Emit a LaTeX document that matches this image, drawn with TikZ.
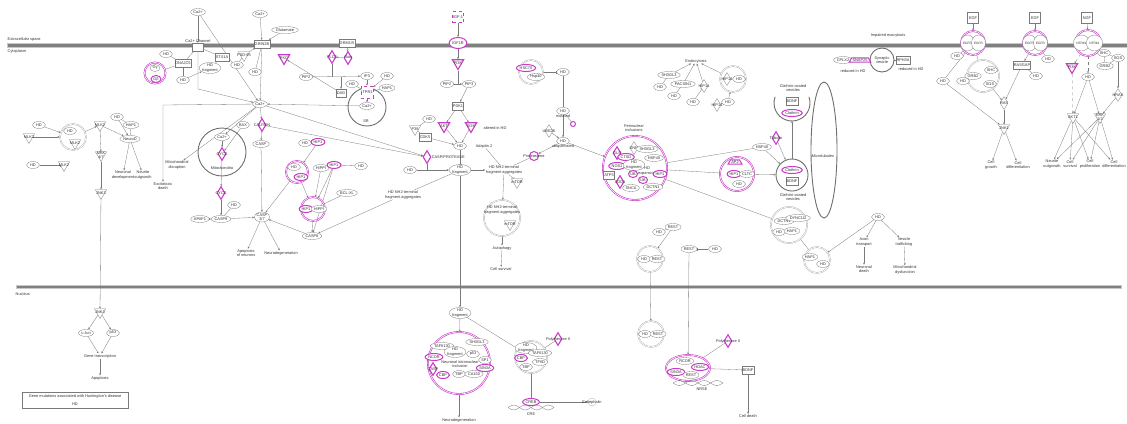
\documentclass[tikz,border=0pt]{standalone}
\usepackage{fontspec}
\setmainfont{Liberation Sans}
\usepackage{tikz}
\usetikzlibrary{shapes.geometric, arrows.meta, backgrounds}
\definecolor{hdmag}{HTML}{C83CC8}
\definecolor{hdline}{HTML}{7A7A7A}
\definecolor{hdgray}{HTML}{6E6E6E}
\definecolor{hdtext}{HTML}{333333}
\definecolor{membr}{HTML}{808080}
\definecolor{membrlt}{HTML}{C8C8C8}

\begin{document}
\begin{tikzpicture}[x=1pt, y=-1pt,
    every node/.style={font=\fontsize{3.9}{4.3}\selectfont, text=hdtext, inner sep=0.5pt},
    mol/.style={ellipse, draw=hdline, line width=0.3pt, fill=white, minimum width=13pt, minimum height=7pt},
    mmol/.style={mol, draw=hdmag, line width=1pt},
    frag/.style={mol, align=center, inner sep=0pt},
    lobe/.style={mol, minimum width=9pt, minimum height=16pt, font=\fontsize{3.2}{3.6}\selectfont},
    kin/.style={regular polygon, regular polygon sides=3, shape border rotate=180, draw=hdline, line width=0.3pt, fill=white, minimum size=13pt, inner sep=0pt, label={[inner sep=0pt, align=center]center:#1}},
    mkin/.style={kin=#1, draw=hdmag, line width=1.1pt},
    enz/.style={diamond, draw=hdline, line width=0.3pt, fill=white, minimum width=8pt, minimum height=13pt, inner sep=0pt, label={[inner sep=0pt, align=center]center:#1}},
    menz/.style={enz=#1, draw=hdmag, line width=1.1pt},
    recp/.style={rectangle, draw=hdline, line width=0.3pt, fill=white, minimum width=11pt, minimum height=8pt},
    cplx/.style={circle, draw=hdline!70, double=white, double distance=0.7pt, line width=0.35pt, minimum size=#1},
    mcplx/.style={circle, draw=hdmag, double=white, double distance=0.6pt, line width=0.6pt, minimum size=#1},
    comp/.style={circle, draw=hdgray, line width=0.9pt, minimum size=#1},
    fn/.style={align=center},
    act/.style={draw=hdline, line width=0.3pt, -{Stealth[length=2.2pt, width=1.8pt]}},
    inh/.style={draw=hdline, line width=0.3pt, -{Bar[width=3pt]}},
    lnk/.style={draw=hdline, line width=0.3pt},
]
\useasboundingbox (0,0) rectangle (1127,423);

\node[anchor=west] (extra) at (7,39.5) {Extracellular space};
\node[anchor=west] (cyto) at (7,51) {Cytoplasm};
\node[anchor=west] (nucl) at (15,294) {Nucleus};

\node[comp=48pt] (mito) at (222,152) {};
\node[comp=38pt] (sr) at (367,107) {};
\node[mcplx=21pt] (gbg) at (155,73) {};
\node[cplx=26pt] (mlkc) at (73,137) {};
\node[mcplx=22pt] (hiphd) at (297,172) {};
\node[mcplx=24pt] (hippc) at (313,209) {};
\node[cplx=24pt] (hspc) at (531,72) {};
\node[cplx=36pt] (aggc) at (502,218) {};
\node[mcplx=64pt] (peri) at (635,168) {};
\node[mcplx=34pt] (apc) at (737,174) {};
\node[comp=32pt] (ccv2) at (792,175) {};
\node[ellipse, draw=hdgray, line width=0.9pt, minimum width=26pt, minimum height=136pt] (mtub) at (824,150) {};
\node[cplx=36pt] (dctnc) at (789,225) {};
\node[cplx=26pt] (haphd) at (817,260) {};
\node[cplx=26pt] (restc1) at (650,259) {};
\node[cplx=26pt] (hip14c) at (733,79) {};
\node[comp=24pt] (synv) at (882,60) {};
\node[cplx=32pt] (grbc1) at (983,76) {};
\node[mcplx=62pt] (nii) at (459,363) {};
\node[cplx=32pt] (tfc) at (531,357) {};
\node[cplx=26pt] (restc2) at (651,334) {};
\node[ellipse, draw=hdmag, double=white, double distance=0.6pt, line width=0.6pt, minimum width=44pt, minimum height=26pt] (restc3) at (688,368) {};
\coordinate (ccv1c) at (792,103);
\coordinate (ccv1b) at (792,121);
\draw[hdgray, line width=0.9pt] (ccv1c) ++(160:18pt) arc[start angle=160, end angle=380, radius=18pt];

\node[mol] (ca1) at (198,12) {Ca2+};
\node[mol] (ca2) at (260,14) {Ca2+};
\node[mol] (glu) at (285,30) {Glutamate};
\node[recp, label={[inner sep=0.3pt]above:Ca2+ Channel}] (vgcc) at (198,47) {};
\node[recp] (grin) at (262,44) {GRIN2B};
\node[mol, minimum width=10pt] (gg) at (155,68) {Gγ};
\node[mmol, minimum width=10pt] (gb) at (156,79) {Gβ};
\node[mol] (hd1) at (166,54) {HD};
\node[recp] (dnaj) at (183,63) {DNAJC5};
\node[mol] (hd2) at (183,80) {HD};
\node[frag] (hdf1) at (210,68) {HD\\fragment};
\node[recp] (stx) at (222,57) {STX1A};
\node[mol] (hd3) at (237,65) {HD};
\node[kin=PSD-95] (psd) at (244,55) {};
\node[mol] (hd4) at (255,72) {HD};
\node[mol] (cacy) at (260,104) {Ca2+};

\node[recp] (grm) at (347,43) {GRM1/5};
\node[menz=PLCβ] (plc) at (332,57) {};
\node[menz=Gαq] (gaq) at (348,58) {};
\node[mkin=PKC] (pkc) at (284,58) {};
\node[mol] (pip2a) at (306,77) {PIP2};
\node[mol] (ip3) at (367,76) {IP3};
\node[recp, minimum width=9pt] (dag) at (341,93) {DAG};
\node[mol] (hd5) at (352,84) {HD};
\node[mol] (hd6) at (387,76) {HD};
\node[mol] (hap1a) at (387,88) {HAP1};
\node[recp, draw=hdmag, dashed, line width=0.8pt, minimum height=12pt] (itpr) at (367,92) {ITPR1};
\node[mol] (casr) at (367,106) {Ca2+};
\node (srl) at (366,121) {SR};

\node[recp, draw=hdmag, dashed, line width=0.8pt, minimum height=11pt] (igf) at (458,17) {IGF-1};
\node[mol, draw=hdmag, line width=1pt, minimum height=11pt] (igfr) at (458,43) {IGF1R};
\node[mkin=PI3K] (pi3k) at (458,63) {};
\node[mol] (pip2b) at (447,84) {PIP2};
\node[mol] (pip3) at (469,84) {PIP3};
\node[recp] (pdk) at (458,106) {PDK1};
\node[mkin=AKT] (akt) at (444,126) {};
\node[mkin=SGK] (sgk) at (471,126) {};
\node[fn] (alt) at (495,128) {altered in HD};
\node[mol] (hd7) at (429,119) {HD};
\node[kin=P38] (p38) at (415,129) {};
\node[recp] (cdk) at (425,137) {CDK5};
\node[mol] (hd8) at (460,146) {HD};
\node[fn] (adap) at (484,146) {Adaptin 2};

\node[mmol, minimum width=10pt] (hsc) at (526,68) {HSC70};
\node[mol] (hsp40a) at (536,77) {Hsp40};
\node[mol] (hd9) at (563,72) {HD};
\node[mol, label={[inner sep=0pt]below:mutated}] (hd10) at (563,111) {HD};
\node[mmol, minimum width=5pt, minimum height=5pt, inner sep=0pt] (ub1) at (573,124) {};
\node[enz=UBE2K] (ube) at (549,131) {};
\node[mol, label={[inner sep=0pt]below:ubiquitinated}] (hd11) at (563,141) {HD};
\node[mmol, circle, minimum size=9pt, inner sep=0pt, label={[inner sep=0pt]center:Proteasome}] (prot) at (534,156) {};

\node[frag] (hdf2) at (460,170) {HD\\fragment};
\node[mol] (hd12) at (410,170) {HD};
\node[menz={}, label={[inner sep=0pt]right:CASP/PROTEASE}] (capn) at (427,157) {};
\node[fn] (agg1) at (504,170) {HD NH2-terminal\\fragment aggregates};
\node[kin=mTOR] (mtor1) at (517,182) {};
\node[fn] (agg2) at (502,210) {HD NH2-terminal\\fragment aggregates};
\node[kin=mTOR] (mtor2) at (510,224) {};
\node[fn] (auto) at (502,248) {Autophagy};
\node[fn] (surv1) at (501,269) {Cell survival};
\node[fn] (agg3) at (403,195) {HD NH2-terminal\\fragment aggregates};

\node[mol] (hd13) at (294,167) {HD};
\node[mmol, minimum width=10pt] (hip1a) at (301,177) {HIP1};
\node[mol] (hd14) at (305,143) {HD};
\node[mmol, minimum width=10pt] (hip1b) at (318,142) {HIP1};
\node[mol] (hippi1) at (321,168) {HIPPI};
\node[mmol, minimum width=10pt] (hip1c) at (334,165) {HIP1};
\node[mol] (hd15) at (361,166) {HD};
\node[mol] (bcl) at (347,193) {BCL-XL};
\node[mmol, minimum width=10pt] (hip1d) at (306,209) {HIP1};
\node[mol, minimum width=10pt] (hippi2) at (319,209) {HIPPI};
\node[mol] (casp8) at (312,236) {CASP8};

\node (mitol) at (222,168) {Mitochondria};
\node[mol] (camt) at (222,137) {Ca2+};
\node[menz=CYCS] (cycs1) at (222,154) {};
\node[menz=CYCS] (cycs2) at (221,193) {};
\node[mol] (hd16) at (234,205) {HD};
\node[mol] (apaf) at (200,219) {APAF1};
\node[mol] (casp9) at (221,219) {CASP9};
\node[mol] (bax) at (243,125) {BAX};
\node[menz=CALPAIN] (calp) at (262,125) {};
\node[mol] (casp) at (261,144) {CASP};
\node[mol, align=center, inner sep=0pt] (casp37) at (262,217) {CASP\\3/7};
\node[fn] (excit) at (163,186) {Excitotoxic\\death};
\node[fn] (mdis) at (177,165) {Mitochondrial\\disruption};
\node[fn] (apn) at (246,253) {Apoptosis\\of neurons};
\node[fn] (ndeg1) at (281,253) {Neurodegeneration};

\node[kin=MLK2] (mlk2a) at (29,137) {};
\node[mol] (hd17) at (39,125) {HD};
\node[mol] (hd18) at (70,131) {HD};
\node[kin=MLK2] (mlk2b) at (75,143) {};
\node[kin=MLK2] (mlk2c) at (100,125) {};
\node[mol] (hd19) at (117,117) {HD};
\node[mol] (hap1b) at (131,125) {HAP1};
\node[mol] (neurod) at (130,139) {NeuroD};
\node[fn] (ndev) at (123,175) {Neuronal\\development};
\node[fn] (nout1) at (143,175) {Neurite\\outgrowth};
\node[mol] (hd20) at (33,165) {HD};
\node[kin=MLK2] (mlk2d) at (64,165) {};
\node[kin={MKK\\4/7}] (mkk) at (101,155) {};
\node[kin=JNK3] (jnk3a) at (101,193) {};

\node[kin=JNK3] (jnk3b) at (100,312) {};
\node[mol] (cjun) at (86,333) {c-Jun};
\node[mol] (p53a) at (113,333) {p53};
\node[fn] (gtx) at (100,356) {Gene transcription};
\node[fn] (apop) at (100,378) {Apoptosis};
\node[draw=hdline, line width=0.4pt, minimum width=106pt, minimum height=16pt, align=center] (legend) at (75,400) {Gene mutations associated with Huntington's disease\\[3pt]HD};

\node[frag] (hdf3) at (460,313) {HD\\fragment};
\node[mol] (taf1) at (442,346) {TAFII130};
\node[mol] (sh3b) at (477,342) {SH3GL3};
\node[frag] (hdf4) at (455,352) {HD\\fragment};
\node[mol] (p53b) at (473,354) {p53};
\node[mol] (sp1) at (485,360) {SP1};
\node[mmol] (ncor) at (434,357) {NCOR};
\node[fn] (niil) at (460,364) {Neuronal intranuclear\\inclusion};
\node[menz=CASP] (casp3n) at (433,369) {};
\node[mmol] (cbp1) at (443,375) {CBP};
\node[mol] (tbp1) at (459,374) {TBP};
\node[mol] (ca150) at (474,374) {CA150};
\node[mmol] (sin3a1) at (485,368) {SIN3A};
\node[fn] (ndeg2) at (459,420) {Neurodegeneration};

\node[frag] (hdf5) at (526,348) {HD\\fragment};
\node[mol] (taf2) at (540,353) {TAFII130};
\node[mmol] (cbp2) at (521,358) {CBP};
\node[mol] (tfiid) at (540,362) {TFIID};
\node[mol] (tbp2) at (526,367) {TBP};
\node[menz={Polymerase II}] (pol2a) at (558,339) {};
\draw[hdline, line width=0.3pt, domain=508:554, samples=80] plot (\x, {407.5+2.4*sin(15.65*(\x-508))});
\draw[hdline, line width=0.3pt, domain=508:554, samples=80] plot (\x, {407.5-2.4*sin(15.65*(\x-508))});
\node[mmol] (creb) at (531,402) {CREB};
\node (cre) at (531,414) {CRE};
\node[circle, draw=hdline!60, line width=0.3pt, minimum size=8pt, label={[inner sep=0pt]center:Enkephalin}] (enk) at (592,402) {};

\node[mol] (hd21) at (645,334) {HD};
\node[mol] (rest3) at (658,334) {REST};
\draw[hdline, line width=0.3pt, domain=673:723, samples=80] plot (\x, {383+2.4*sin(14.4*(\x-673))});
\draw[hdline, line width=0.3pt, domain=673:723, samples=80] plot (\x, {383-2.4*sin(14.4*(\x-673))});
\node[mol] (rcor) at (685,361) {RCOR};
\node[mmol] (sin3a2) at (676,372) {SIN3A};
\node[mol] (rest4) at (691,375) {REST};
\node[mmol] (hdac) at (700,367) {HDAC};
\node (nrse) at (702,389) {NRSE};
\node[menz={Polymerase II}] (pol2b) at (728,341) {};
\node[recp] (bdnf3) at (748,370) {BDNF};
\node[fn] (cdeath) at (748,416) {Cell death};

\node[mol] (hd22) at (659,232) {HD};
\node[mol] (rest1) at (673,227) {REST};
\node[mol] (hd23) at (644,259) {HD};
\node[mol] (rest2) at (657,259) {REST};
\node[mol] (rest5) at (689,249) {REST};
\node[mol] (hd24) at (715,249) {HD};

\node[fn] (peril) at (634,128) {Perinuclear\\inclusions};
\node[menz=GLS] (gls) at (617,153) {};
\node[enz=DNM] (dnm) at (634,148) {};
\node[mol] (sh3c) at (647,149) {SH3GL3};
\node[mmol] (ctsd) at (626,157) {CTSD};
\node[mol] (hsp70) at (654,158) {HSP40};
\node[mmol] (nos) at (617,166) {NOS1};
\node[frag] (hdf6) at (634,165) {HD\\fragment};
\node[fn] (hdexp) at (647,171) {HD\\expansion};
\node[recp] (atp) at (609,175) {ATP5};
\node[mmol, minimum width=9pt] (ub2) at (633,174) {UB};
\node[mmol, minimum width=9pt] (ub3) at (643,180) {UB};
\node[mmol] (hip1e) at (660,174) {HIP1};
\node[mol] (dctn1a) at (653,187) {DCTN1};
\node[mol] (snca) at (631,188) {SNCA};
\node[menz=SOD1] (sod) at (620,182) {};

\node[mol] (hsp40b) at (762,147) {HSP40};
\node[menz=Tubulin] (tub) at (776,138) {};
\node[trapezium, draw=hdmag, line width=1pt, fill=white, inner sep=0.8pt] (ap2) at (735,162) {AP2};
\node[mmol] (hip1f) at (734,174) {HIP1};
\node[mol] (cltc) at (747,174) {CLTC};
\node[mol] (hd25) at (739,184) {HD};
\node[mmol] (clath2) at (792,170) {Clathrin};
\node[recp] (bdnf2) at (792,181) {BDNF};
\node[fn] (ccv2l) at (793,197) {Clathrin-coated\\vesicles};
\node[fn] (ccv1l) at (793,88) {Clathrin-coated\\vesicles};
\node[recp] (bdnf1) at (792,101) {BDNF};
\node[mmol] (clath1) at (792,113) {Clathrin};
\node (mtubl) at (823,156) {Microtubules};

\node[mol] (dctn1b) at (784,221) {DCTN1};
\node[mol] (dync) at (798,218) {DYNC1I2};
\node[mol] (hd26) at (779,232) {HD};
\node[mol] (hap1c) at (792,231) {HAP1};
\node[mol] (hap1d) at (810,257) {HAP1};
\node[mol] (hd27) at (823,264) {HD};
\node[mol] (hd28) at (878,217) {HD};
\node[fn] (axon) at (864,242) {Axon\\transport};
\node[fn] (vtraf) at (904,242) {Vesicle\\trafficking};
\node[fn] (ndeath) at (864,269) {Neuronal\\death};
\node[fn] (mdys) at (905,270) {Mitochondrial\\dysfunction};

\node[fn] (endo) at (696,61) {Endocytosis};
\node[mol] (sh3a) at (669,75) {SH3GL3};
\node[mol] (hd29) at (660,87) {HD};
\node[mol] (pacs) at (683,84) {PACSIN1};
\node[mol] (hd30) at (674,96) {HD};
\node[enz=HIP14] (hip14a) at (704,86) {};
\node[mol] (hd31) at (693,102) {HD};
\node[enz=HIP14] (hip14b) at (727,79) {};
\node[mol] (hd32) at (739,79) {HD};
\node[enz=HIP14] (hip14d) at (717,105) {};
\node[mol] (hd33) at (728,102) {HD};

\node[fn] (impx) at (888,35) {Impaired exocytosis};
\node[mol] (cplx2) at (843,60) {CPLX2};
\node[trapezium, draw=hdmag, line width=1pt, fill=white, inner sep=0.8pt] (snap) at (860,60) {SNAP25};
\node[fn] (synvl) at (882,60) {Synaptic\\vesicle};
\node[recp] (rph) at (903,60) {RPH3A};
\node[fn] (red1) at (853,71) {reduced in HD};
\node[fn] (red2) at (911,69) {reduced in HD};

\node[recp, minimum height=11pt] (egf1) at (973,18) {EGF};
\node[mcplx=24pt] (egfr1) at (973,43) {};
\node[lobe] (egfr1a) at (967.5,43) {EGFR};
\node[lobe] (egfr1b) at (978.5,43) {EGFR};
\node[mol] (hd34) at (957,56) {HD};
\node[mol] (hd35) at (943,81) {HD};
\node[mol] (hd36) at (963,81) {HD};
\node[mol] (grb2a) at (973,76) {GRB2};
\node[mol] (shc1) at (991,70) {SHC};
\node[mol] (sos1) at (990,84) {SOS};
\node[enz=RAS] (ras1) at (1004,103) {};
\node[kin=JNK1] (jnk1) at (1004,128) {};
\node[recp, minimum height=11pt] (egf2) at (1035,18) {EGF};
\node[mcplx=24pt] (egfr2) at (1035,43) {};
\node[lobe] (egfr2a) at (1029.5,43) {EGFR};
\node[lobe] (egfr2b) at (1040.5,43) {EGFR};
\node[mol] (hd37) at (1048,59) {HD};
\node[recp] (rasgap) at (1022,65) {RASGAP};
\node[mol] (hd38) at (1036,76) {HD};
\node[recp, minimum height=11pt] (ngf) at (1087,18) {NGF};
\node[mcplx=26pt] (ntrk) at (1088,43) {};
\node[lobe] (ntrka) at (1081.5,43) {NTRK1};
\node[lobe] (ntrkb) at (1094.5,43) {NTRK1};
\node[mol] (shc2) at (1104,53) {SHC};
\node[mol] (grb2b) at (1105,66) {GRB2};
\node[mol] (sos2) at (1118,58) {SOS};
\node[mkin=PI3K] (pi3k2) at (1072,67) {};
\node[mol] (hd39) at (1088,77) {HD};
\node[enz=HRAS] (hras) at (1118,95) {};
\node[kin=AKT1] (akt1) at (1073,117) {};
\node[kin={ERK\\1/2}] (erk) at (1100,117) {};
\node[fn] (cgrow) at (991,165) {Cell\\growth};
\node[fn] (cdiff1) at (1018,165) {Cell\\differentiation};
\node[fn] (nout2) at (1052,164) {Neurite\\outgrowth};
\node[fn] (surv2) at (1070,164) {Cell\\survival};
\node[fn] (prolif) at (1090,164) {Cell\\proliferation};
\node[fn] (cdiff2) at (1114,164) {Cell\\differentiation};

\coordinate (cael) at (198,89);
\coordinate (exc) at (163,105);
\coordinate (plcx) at (332,77);
\coordinate (dagx) at (341,77);
\coordinate (pi3kx) at (458,84);
\coordinate (capnx) at (427,170);

\begin{scope}[on background layer]
\filldraw[fill=membr, draw=membrlt, line width=0.4pt] (7,43.3) rectangle (1127,47.3);
\filldraw[fill=membr, draw=membrlt, line width=0.4pt] (16,285) rectangle (1121,288.5);

\draw[act] (hd17) -- (mlkc);
\draw[act] (mlk2a) -- (mlkc);
\draw[act] (mlkc) -- (mlk2c);
\draw[inh] (hd20) -- (mlk2d);
\draw[act] (mlk2c) -- (mkk);
\draw[act] (mkk) -- (jnk3a);
\draw[act] (jnk3a) -- (jnk3b);
\draw[lnk] (hd19) -- (hap1b);
\draw[act] (hd19) -- (neurod);
\draw[act] (mlk2c) -- (neurod);
\draw[lnk] (hap1b) -- (neurod);
\draw[act] (neurod) -- (ndev);
\draw[act] (neurod) -- (nout1);
\draw[act] (jnk3b) -- (cjun);
\draw[act] (jnk3b) -- (p53a);
\draw[act] (cjun) -- (gtx);
\draw[act] (p53a) -- (gtx);
\draw[act] (gtx) -- (apop);

\draw[act] (ca1) -- (vgcc);
\draw[act] (ca1) -- (cacy);
\draw[act] (vgcc) -- (cael) -- (cacy);
\draw[act] (ca2) -- (grin);
\draw[act] (glu) -- (grin);
\draw[act] (grin) -- (cacy);
\draw[lnk] (gbg) -- (dnaj);
\draw[lnk] (hd1) -- (dnaj);
\draw[lnk] (dnaj) -- (vgcc);
\draw[lnk] (dnaj) -- (hd2);
\draw[act] (hd2) -- (hdf1);
\draw[lnk] (hdf1) -- (stx);
\draw[lnk] (stx) -- (vgcc);
\draw[act] (psd) -- (grin);
\draw[lnk] (hd3) -- (psd);
\draw[inh] (hd4) -- (grin);
\draw[act] (cacy) -- (exc) -- (excit);
\draw[act] (cacy) -- (camt);
\draw[act] (cacy) -- (mdis);
\draw[act] (cacy) -- (calp);
\draw[act] (camt) -- (cycs1);
\draw[act] (bax) -- (cycs1);
\draw[act] (cycs1) -- (cycs2);
\draw[act] (cycs2) -- (casp9);
\draw[lnk] (hd16) -- (casp9);
\draw[act] (apaf) -- (casp9);
\draw[act] (casp9) -- (casp37);
\draw[act] (calp) -- (casp);
\draw[act] (casp) -- (casp37);
\draw[act] (casp37) -- (apn);
\draw[act] (casp37) -- (ndeg1);
\draw[act] (hiphd) -- (casp37);
\draw[act] (casp8) -- (casp37);

\draw[act] (grm) -- (gaq);
\draw[act] (gaq) -- (plc);
\draw[act] (pip2a) -- (ip3);
\draw[lnk] (plc) -- (plcx);
\draw[act] (dagx) -- (dag);
\draw[act] (dag) -- (pkc);
\draw[act] (ip3) -- (itpr);
\draw[lnk] (hd5) -- (itpr);
\draw[act] (hd6) -- (itpr);
\draw[lnk] (hap1a) -- (itpr);
\draw[act] (itpr) -- (casr);
\draw[act] (casr) -- (cacy);

\draw[act] (igf) -- (igfr);
\draw[act] (igfr) -- (pi3k);
\draw[act] (pip2b) -- (pip3);
\draw[lnk] (pi3k) -- (pi3kx);
\draw[act] (pip3) -- (pdk);
\draw[act] (pdk) -- (akt);
\draw[act] (pdk) -- (sgk);
\draw[act] (akt) -- (hd8);
\draw[act] (sgk) -- (hd8);
\draw[lnk] (hd7) -- (p38);
\draw[lnk] (p38) -- (cdk);
\draw[act] (cdk) -- (hd8);
\draw[act] (cacy) -- (capn);
\draw[act] (calp) -- (capn);
\draw[act] (hd12) -- (hdf2);
\draw[lnk] (capn) -- (capnx);
\draw[inh] (hd8) -- (hdf2);
\draw[act] (hdf2) -- (agg1);
\draw[lnk] (adap) -- (agg1);
\draw[lnk] (hdf2) -- (agg3);
\draw[act] (agg3) -- (casp8);
\draw[act] (agg1) -- (aggc);
\draw[inh] (agg1) -- (mtor1);
\draw[act] (aggc) -- (auto);
\draw[act] (auto) -- (surv1);
\draw[lnk] (prot) -- (agg1);
\draw[act] (hdf2) -- (hdf3);

\draw[lnk] (hd14) -- (hip1b);
\draw[act] (hip1b) -- (hiphd);
\draw[act] (hiphd) -- (hippc);
\draw[act] (hippi1) -- (hippc);
\draw[act] (hip1c) -- (hippc);
\draw[inh] (hd15) -- (hip1c);
\draw[inh] (bcl) -- (hippc);
\draw[act] (hippc) -- (casp8);
\draw[act] (hip1c) -- (casp8);

\draw[inh] (hspc) -- (hd9);
\draw[lnk] (hd9) -- (hd10);
\draw[lnk] (hd10) -- (ub1);
\draw[act] (ube) -- (hd11);
\draw[act] (hd10) -- (hd11);
\draw[act] (hd11) -- (prot);
\draw[act] (hd11) -- (peri);

\draw[lnk] (peri) -- (hsp40b);
\draw[act] (hsp40b) -- (ccv2);
\draw[act] (tub) -- (ccv2);
\draw[inh] (peri) -- (apc);
\draw[act] (apc) -- (ccv2);
\draw[act] (ccv2) -- (ccv1b);
\draw[inh] (peri) -- (dctnc);
\draw[lnk] (dctnc) -- (haphd);
\draw[act] (hd28) -- (haphd);
\draw[act] (hd28) -- (axon);
\draw[act] (hd28) -- (vtraf);
\draw[act] (axon) -- (ndeath);
\draw[act] (vtraf) -- (mdys);

\draw[lnk] (hd22) -- (rest1);
\draw[act] (rest1) -- (restc1);
\draw[act] (restc1) -- (restc2);
\draw[inh] (hd24) -- (rest5);
\draw[act] (rest5) -- (restc3);
\draw[inh] (pol2b) -- (restc3);
\draw[inh] (restc3) -- (bdnf3);
\draw[act] (bdnf3) -- (cdeath);

\draw[act] (hdf3) -- (nii);
\draw[act] (hdf3) -- (tfc);
\draw[act] (nii) -- (ndeg2);
\draw[inh] (pol2a) -- (tfc);
\draw[inh] (tfc) -- (creb);
\draw[act] (creb) -- (enk);

\draw[act] (sh3a) -- (endo);
\draw[lnk] (hd29) -- (sh3a);
\draw[act] (pacs) -- (endo);
\draw[lnk] (hd30) -- (pacs);
\draw[act] (hip14a) -- (endo);
\draw[inh] (hd31) -- (hip14a);
\draw[act] (hip14c) -- (endo);
\draw[lnk] (hip14d) -- (hd33);
\draw[act] (hd33) -- (hip14c);

\draw[lnk] (cplx2) -- (snap);
\draw[lnk] (snap) -- (synv);
\draw[lnk] (synv) -- (rph);

\draw[act] (egf1) -- (egfr1);
\draw[lnk] (egfr1) -- (hd34);
\draw[inh] (hd35) -- (egfr1);
\draw[lnk] (egfr1) -- (grbc1);
\draw[lnk] (hd36) -- (grbc1);
\draw[act] (grbc1) -- (ras1);
\draw[act] (ras1) -- (jnk1);
\draw[act] (hd35) -- (jnk1);
\draw[act] (rasgap) -- (ras1);
\draw[act] (egf2) -- (egfr2);
\draw[act] (egfr2) -- (rasgap);
\draw[lnk] (egfr2) -- (hd37);
\draw[lnk] (rasgap) -- (hd38);
\draw[act] (jnk1) -- (cgrow);
\draw[act] (jnk1) -- (cdiff1);
\draw[act] (ngf) -- (ntrk);
\draw[lnk] (ntrk) -- (shc2);
\draw[lnk] (shc2) -- (grb2b);
\draw[lnk] (grb2b) -- (sos2);
\draw[lnk] (shc2) -- (sos2);
\draw[act] (sos2) -- (hras);
\draw[act] (hras) -- (erk);
\draw[act, dashed] (ntrk) -- (pi3k2);
\draw[act, dashed] (pi3k2) -- (akt1);
\draw[act, dashed] (ntrk) -- (hd39);
\draw[act] (hd39) -- (akt1);
\draw[act] (hd39) -- (erk);
\draw[act] (akt1) -- (nout2);
\draw[act] (akt1) -- (surv2);
\draw[act] (akt1) -- (prolif);
\draw[act] (akt1) -- (cdiff2);
\draw[act] (erk) -- (nout2);
\draw[act] (erk) -- (surv2);
\draw[act] (erk) -- (prolif);
\draw[act] (erk) -- (cdiff2);
\end{scope}
\end{tikzpicture}
\end{document}
